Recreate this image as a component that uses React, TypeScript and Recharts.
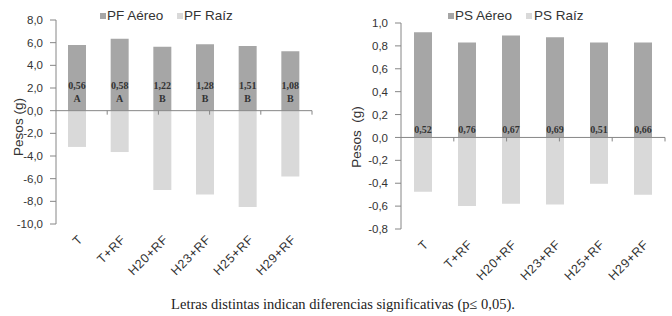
import { BarChart, Bar, XAxis, YAxis, ReferenceLine, ReferenceDot, LabelList } from "recharts"

const categories = ["T", "T+RF", "H20+RF", "H23+RF", "H25+RF", "H29+RF"]

const pfAereo = [5.8, 6.35, 5.65, 5.85, 5.7, 5.25]
const pfRaiz = [-3.2, -3.65, -7.0, -7.4, -8.5, -5.8]
const pfRatio = ["0,56", "0,58", "1,22", "1,28", "1,51", "1,08"]
const pfLetters = ["A", "A", "B", "B", "B", "B"]
const pfTicks = [-10, -8, -6, -4, -2, 0, 2, 4, 6, 8]

const psAereo = [0.92, 0.83, 0.89, 0.875, 0.83, 0.83]
const psRaiz = [-0.475, -0.6, -0.58, -0.585, -0.405, -0.5]
const psRatio = ["0,52", "0,76", "0,67", "0,69", "0,51", "0,66"]
const psTicks = [-0.8, -0.6, -0.4, -0.2, 0, 0.2, 0.4, 0.6, 0.8, 1.0]

const boundaries = [1, 2, 3, 4, 5, 6]

const AEREO = "#a6a6a6"
const RAIZ = "#d9d9d9"
const AXIS = "#868686"
const SANS = "'Liberation Sans', Arial, sans-serif"
const SERIF = "'Liberation Serif', 'Times New Roman', serif"

const fmt = (v: number) => v.toFixed(1).replace(".", ",")

interface PanelProps {
  left: number
  aereo: number[]
  raiz: number[]
  ratio: string[]
  letters?: string[]
  ticks: number[]
  names: [string, string]
  yLabel: string
  margin: { top: number; right: number; bottom: number; left: number }
  legendX: [number, number, number, number]
  yLabelPos: [number, number]
  labelLift: number
}

function Panel({ left, aereo, raiz, ratio, letters, ticks, names, yLabel, margin, legendX, yLabelPos, labelLift }: PanelProps) {
  const data = categories.map((c, i) => ({
    name: c,
    aereo: aereo[i],
    raiz: raiz[i],
    ratio: ratio[i],
    letter: letters ? letters[i] : ""
  }))

  const renderLabel = (props: any) => {
    const { x, y, width, height, index } = props
    const cx = x + width / 2
    const base = y + height
    const d = data[index]
    return (
      <g>
        <text x={cx} y={base - labelLift} textAnchor="middle" dominantBaseline="central"
          fontFamily={SERIF} fontWeight="bold" fontSize={10} fill="#333">{d.ratio}</text>
        {d.letter && (
          <text x={cx} y={base - 12} textAnchor="middle" dominantBaseline="central"
            fontFamily={SERIF} fontWeight="bold" fontSize={10} fill="#333">{d.letter}</text>
        )}
      </g>
    )
  }

  return (
    <div style={{ position: "absolute", left, top: 0, width: 336, height: 290 }}>
      <BarChart width={336} height={290} data={data} margin={margin} stackOffset="sign" barSize={18}>
        <XAxis dataKey="name" axisLine={false} tickLine={false} interval={0} height={60}
          angle={-45} textAnchor="end" tickMargin={4}
          tick={{ fill: "#333", fontSize: 12.5, fontFamily: SANS, letterSpacing: 0.6 }} />
        <XAxis xAxisId="b" type="number" domain={[0, 6]} hide />
        <YAxis domain={[ticks[0], ticks[ticks.length - 1]]} ticks={ticks} width={40}
          tickFormatter={fmt} interval={0} tickMargin={7}
          stroke={AXIS} tick={{ fill: "#333", fontSize: 11.5, fontFamily: SANS }} />
        <ReferenceLine y={0} stroke={AXIS} />
        {boundaries.map((b) => (
          <ReferenceDot key={b} x={b} y={0} xAxisId="b"
            shape={(p: any) => <line x1={p.cx} y1={p.cy} x2={p.cx} y2={p.cy + 4} stroke={AXIS} />} />
        ))}
        <Bar dataKey="aereo" stackId="s" fill={AEREO} isAnimationActive={false}>
          <LabelList dataKey="ratio" content={renderLabel} />
        </Bar>
        <Bar dataKey="raiz" stackId="s" fill={RAIZ} isAnimationActive={false} />
      </BarChart>

      <div style={{ position: "absolute", left: legendX[0], top: 13, width: 6, height: 6, background: AEREO }} />
      <div style={{ position: "absolute", left: legendX[1], top: 8, fontFamily: SANS, fontSize: 13.5, color: "#333", lineHeight: "16px" }}>{names[0]}</div>
      <div style={{ position: "absolute", left: legendX[2], top: 13, width: 6, height: 6, background: RAIZ }} />
      <div style={{ position: "absolute", left: legendX[3], top: 8, fontFamily: SANS, fontSize: 13.5, color: "#333", lineHeight: "16px" }}>{names[1]}</div>

      <div style={{
        position: "absolute", left: yLabelPos[0], top: yLabelPos[1], whiteSpace: "pre",
        transform: "translate(-50%, -50%) rotate(-90deg)", fontFamily: SANS, fontSize: 13.5, color: "#333"
      }}>{yLabel}</div>
    </div>
  )
}

export default function App() {
  return (
    <div style={{ position: "absolute", left: 0, top: 0, width: 672, height: 316, background: "#fff", overflow: "hidden" }}>
      <Panel left={0} aereo={pfAereo} raiz={pfRaiz} ratio={pfRatio} letters={pfLetters} ticks={pfTicks}
        names={["PF Aéreo", "PF Raíz"]} yLabel="Pesos (g)"
        margin={{ top: 20, right: 24, bottom: 6, left: 16 }}
        legendX={[100, 107, 177, 184]} yLabelPos={[18, 127]} labelLift={25} />
      <Panel left={336} aereo={psAereo} raiz={psRaiz} ratio={psRatio} ticks={psTicks}
        names={["PS Aéreo", "PS Raíz"]} yLabel="Pesos  (g)"
        margin={{ top: 23, right: 7, bottom: 1, left: 25 }}
        legendX={[112, 119, 190, 198]} yLabelPos={[20, 137]} labelLift={8} />
      <div style={{
        position: "absolute", left: 14, width: 658, top: 296, textAlign: "center",
        fontFamily: SERIF, fontSize: 14.5, color: "#222"
      }}>Letras distintas indican diferencias significativas (p≤ 0,05).</div>
    </div>
  )
}
